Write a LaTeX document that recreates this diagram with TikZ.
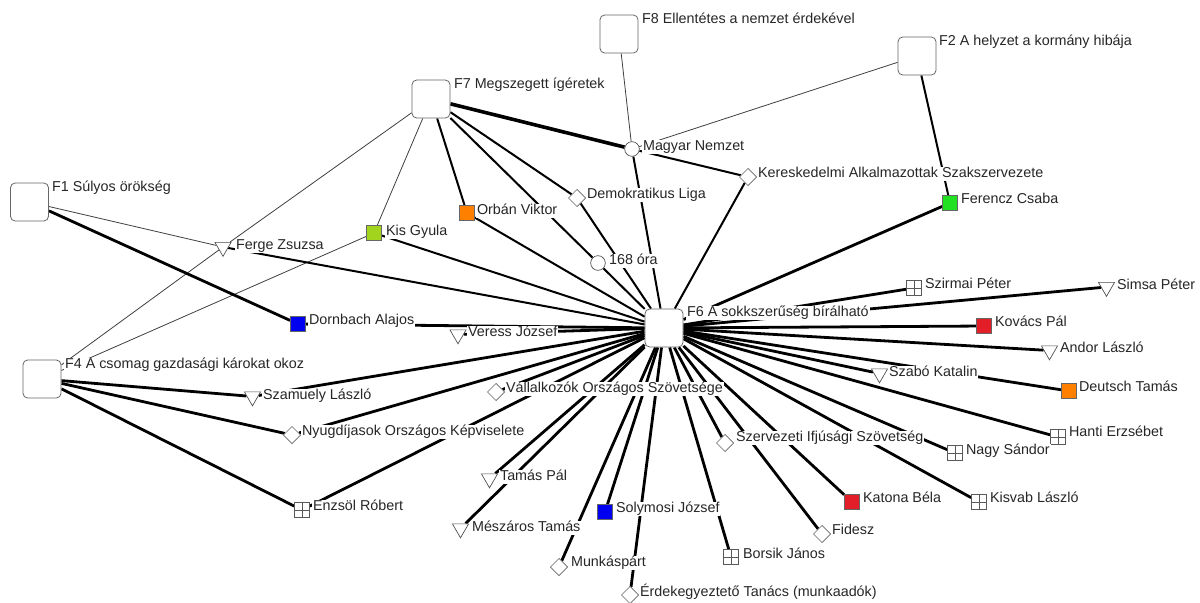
\documentclass[tikz,border=0pt]{standalone}
\usepackage{fontspec}
\setmainfont{Liberation Sans}
\usetikzlibrary{shapes.geometric,backgrounds}
\definecolor{cLime}{HTML}{A2D41E}
\definecolor{cOrange}{HTML}{FF8000}
\definecolor{cGreen}{HTML}{22E022}
\definecolor{cBlue}{HTML}{0000F0}
\definecolor{cRed}{HTML}{E41E28}
\tikzset{
  bigbox/.style={draw=black!60, fill=white, rounded corners=3.5pt, minimum size=28.5pt, inner sep=0pt, line width=0.6pt},
  sqnode/.style={draw=black!60, fill=#1, minimum size=11.25pt, inner sep=0pt, line width=0.5pt},
  gridnode/.style={draw=black!65, fill=white, minimum size=11.25pt, inner sep=0pt, line width=0.5pt,
    path picture={\draw[black!65,line width=0.5pt] (path picture bounding box.north) -- (path picture bounding box.south) (path picture bounding box.west) -- (path picture bounding box.east);}},
  dianode/.style={draw=black!60, fill=white, diamond, minimum size=13pt, inner sep=0pt, line width=0.5pt},
  circnode/.style={draw=black!70, fill=white, circle, minimum size=11pt, inner sep=0pt, line width=0.5pt},
  trinode/.style={draw=black!70, fill=white, regular polygon, regular polygon sides=3, shape border rotate=180, minimum size=14pt, inner sep=0pt, line width=0.5pt},
  lbl/.style={anchor=west, fill=white, inner xsep=0.6pt, inner ysep=0.4pt, text height=8pt, text depth=2.2pt, text=black!85},
  thinedge/.style={draw=black!75, line width=0.6pt},
  medge/.style={draw=black, line width=1.5pt},
  thedge/.style={draw=black, line width=2.1pt},
  heavyedge/.style={draw=black, line width=2.7pt}
}
\begin{document}
\begin{tikzpicture}[x=0.75pt,y=-0.75pt, font=\fontsize{10.75}{12}\selectfont]
\useasboundingbox (0,0) rectangle (1200,603);
% big factor boxes
\node[bigbox] (f1) at (29.5,202) {};
\node[lbl] (f1l) at (51,188) {F1 Súlyos örökség};
\node[bigbox] (f8) at (619,34) {};
\node[lbl] (f8l) at (641,20) {F8 Ellentétes a nemzet érdekével};
\node[bigbox] (f2) at (917,56) {};
\node[lbl] (f2l) at (938,42) {F2 A helyzet a kormány hibája};
\node[bigbox] (f7) at (431,99) {};
\node[lbl] (f7l) at (453,85) {F7 Megszegett ígéretek};
\node[bigbox] (f4) at (42,379) {};
\node[lbl] (f4l) at (64,365) {F4 A csomag gazdasági károkat okoz};
\node[bigbox] (f6) at (664,328) {};
\node[lbl] (f6l) at (686,313) {F6 A sokkszerűség bírálható};
% actors
\node[trinode] (ferge) at (223,247) {};
\node[lbl] (fergel) at (235,246) {Ferge Zsuzsa};
\node[sqnode=cLime] (kis) at (374,233) {};
\node[lbl] (kisl) at (385,232) {Kis Gyula};
\node[sqnode=cOrange] (orban) at (467,213) {};
\node[lbl] (orbanl) at (476,211) {Orbán Viktor};
\node[dianode] (demliga) at (577,198) {};
\node[lbl] (demligal) at (586,195) {Demokratikus Liga};
\node[circnode] (mn) at (632,149) {};
\node[lbl] (mnl) at (642,147) {Magyar Nemzet};
\node[dianode] (keresk) at (748,177) {};
\node[lbl] (kereskl) at (757,174) {Kereskedelmi Alkalmazottak Szakszervezete};
\node[sqnode=cGreen] (ferencz) at (950,203) {};
\node[lbl] (ferenczl) at (960,200) {Ferencz Csaba};
\node[circnode] (ora) at (598,263) {};
\node[lbl] (oral) at (608,261) {168 óra};
\node[sqnode=cBlue] (dornbach) at (298,324) {};
\node[lbl] (dornbachl) at (308,321) {Dornbach Alajos};
\node[trinode] (veress) at (458,334.5) {};
\node[lbl] (veressl) at (467,333) {Veress József};
\node[gridnode] (szirmai) at (914,288) {};
\node[lbl] (szirmail) at (924,285) {Szirmai Péter};
\node[trinode] (simsa) at (1106.5,287) {};
\node[lbl] (simsal) at (1116,286) {Simsa Péter};
\node[sqnode=cRed] (kovacs) at (984,326) {};
\node[lbl] (kovacsl) at (994,323) {Kovács Pál};
\node[trinode] (andor) at (1049.5,350.5) {};
\node[lbl] (andorl) at (1059,349) {Andor László};
\node[trinode] (szabo) at (879.5,373.5) {};
\node[lbl] (szabol) at (888,373) {Szabó Katalin};
\node[sqnode=cOrange] (deutsch) at (1069,391) {};
\node[lbl] (deutschl) at (1078,388) {Deutsch Tamás};
\node[gridnode] (hanti) at (1058,437) {};
\node[lbl] (hantil) at (1068,433) {Hanti Erzsébet};
\node[gridnode] (nagy) at (955,453) {};
\node[lbl] (nagyl) at (965,451) {Nagy Sándor};
\node[gridnode] (kisvab) at (979,502) {};
\node[lbl] (kisvabl) at (989,499) {Kisvab László};
\node[sqnode=cRed] (katona) at (852,502) {};
\node[lbl] (katonal) at (862,499) {Katona Béla};
\node[dianode] (fidesz) at (822,534) {};
\node[lbl] (fideszl) at (831,531) {Fidesz};
\node[dianode] (szerv) at (725,443) {};
\node[lbl] (szervl) at (735,438) {Szervezeti Ifjúsági Szövetség};
\node[gridnode] (borsik) at (731,557) {};
\node[lbl] (borsikl) at (742,555) {Borsik János};
\node[sqnode=cBlue] (solymosi) at (605,512) {};
\node[lbl] (solymosil) at (615,509) {Solymosi József};
\node[dianode] (erdek) at (630,595) {};
\node[lbl] (erdekl) at (639,593) {Érdekegyeztető Tanács (munkaadók)};
\node[dianode] (munkas) at (559,567) {};
\node[lbl] (munkasl) at (570,563) {Munkáspárt};
\node[trinode] (meszaros) at (460.5,528.5) {};
\node[lbl] (meszarosl) at (471,528) {Mészáros Tamás};
\node[trinode] (tamas) at (489.5,478.5) {};
\node[lbl] (tamasl) at (499,477) {Tamás Pál};
\node[dianode] (vallalk) at (496,392) {};
\node[lbl] (vallalkl) at (505,389) {Vállalkozók Országos Szövetsége};
\node[dianode] (nyugd) at (292,435) {};
\node[lbl] (nyugdl) at (301,432) {Nyugdíjasok Országos Képviselete};
\node[gridnode] (enzsol) at (302,510) {};
\node[lbl] (enzsoll) at (312,507) {Enzsöl Róbert};
\node[trinode] (szamuely) at (252.5,396.5) {};
\node[lbl] (szamuelyl) at (262,396) {Szamuely László};
% connectors
\begin{scope}[on background layer]
\fill[white] (0,0) rectangle (1200,603);
% thin
\draw[thinedge] (f1) -- (ferge);
\draw[thinedge] (f7) -- (ferge);
\draw[thinedge] (ferge) -- (f4);
\draw[thinedge] (f7) -- (kis);
\draw[thinedge] (kis) -- (f4);
\draw[thinedge] (f8) -- (mn);
\draw[thinedge] (f2) -- (mn);
% medium
\draw[medge] (f7) -- (orban);
\draw[medge] (f7) -- (ora);
\draw[medge] (f7) -- (demliga);
\draw[medge] (demliga) -- (f6);
\draw[medge] (mn) -- (f6);
\draw[medge] (mn) -- (keresk);
\draw[medge] (keresk) -- (f6);
\draw[medge] (f2) -- (ferencz);
\draw[medge] (orban) -- (f6);
\draw[medge] (kis) -- (f6);
\draw[medge] (ferge) -- (f6);
\draw[medge] (ora) -- (f6);
% heavy
\draw[heavyedge] (f7) -- (mn);
% thick
\draw[thedge] (ferencz) -- (f6);
\draw[thedge] (f1) -- (dornbach);
\draw[thedge] (dornbach) -- (f6);
\draw[thedge] (veress) -- (f6);
\draw[thedge] (f4) -- (szamuely);
\draw[thedge] (f4) -- (nyugd);
\draw[thedge] (f4) -- (enzsol);
\draw[thedge] (szamuely) -- (f6);
\draw[thedge] (nyugd) -- (f6);
\draw[thedge] (enzsol) -- (f6);
\draw[thedge] (vallalk) -- (f6);
\draw[thedge] (meszaros) -- (f6);
\draw[thedge] (tamas) -- (f6);
\draw[thedge] (munkas) -- (f6);
\draw[thedge] (solymosi) -- (f6);
\draw[thedge] (erdek) -- (f6);
\draw[thedge] (borsik) -- (f6);
\draw[thedge] (szerv) -- (f6);
\draw[thedge] (fidesz) -- (f6);
\draw[thedge] (katona) -- (f6);
\draw[thedge] (kisvab) -- (f6);
\draw[thedge] (nagy) -- (f6);
\draw[thedge] (hanti) -- (f6);
\draw[thedge] (deutsch) -- (f6);
\draw[thedge] (szabo) -- (f6);
\draw[thedge] (andor) -- (f6);
\draw[thedge] (kovacs) -- (f6);
\draw[thedge] (simsa) -- (f6);
\draw[thedge] (szirmai) -- (f6);
\end{scope}
\end{tikzpicture}
\end{document}
